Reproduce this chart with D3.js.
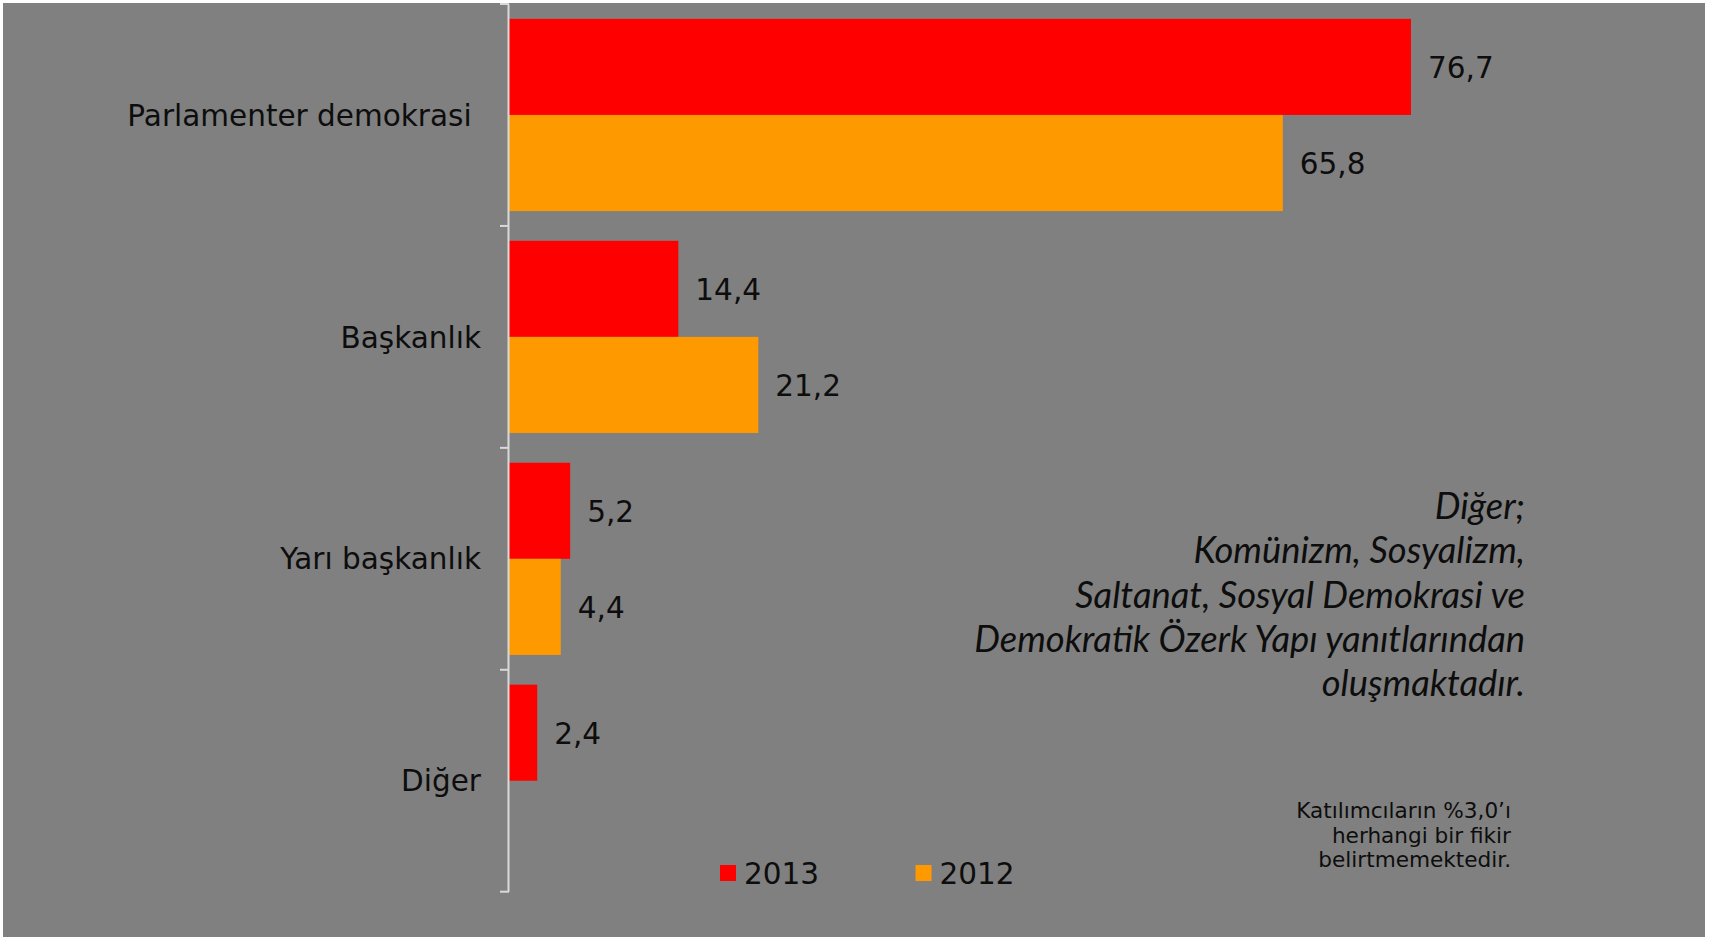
<!DOCTYPE html>
<html>
<head>
<meta charset="utf-8">
<script src="https://d3js.org/d3.v7.min.js"></script>
<style>
  body { margin: 0; background: #ffffff; }
  svg { display: block; }
</style>
</head>
<body>
<div id="chart"></div>
<script>
// Yönetim sistemi tercihi, 2013 / 2012 (%)

var categories = ["Parlamenter demokrasi ", "Başkanlık", "Yarı başkanlık", "Diğer"];
var seriesNames = ["2013", "2012"];
var values2013 = [76.7, 14.4, 5.2, 2.4];
var values2012 = [65.8, 21.2, 4.4, null];
var noteLines = ["Diğer;", "Komünizm, Sosyalizm,", "Saltanat, Sosyal Demokrasi ve",
                 "Demokratik Özerk Yapı yanıtlarından", "oluşmaktadır."];
var footLines = ["Katılımcıların %3,0’ı", "herhangi bir fikir", "belirtmemektedir."];

var W = 1709, H = 937;
var plot = { left: 509, top: 4, bottom: 891.7 };
var colors = ["#ff0000", "#ff9900"];
var labelFont = "DejaVu Sans";

var svg = d3.select("#chart").append("svg")
    .attr("width", W)
    .attr("height", H);

// gray slide background
svg.append("rect")
    .attr("x", 3).attr("y", 3)
    .attr("width", 1702).attr("height", H - 3)
    .attr("fill", "#808080");

var y = d3.scaleBand()
    .domain(categories)
    .range([plot.top, plot.bottom])
    .padding(0);

var x = d3.scaleLinear()
    .domain([0, 100])
    .range([plot.left, plot.left + 1176]);

// inner band for the two bars of a group
var groupH = y.bandwidth() * 0.866;
var y1 = d3.scaleBand()
    .domain(seriesNames)
    .range([(y.bandwidth() - groupH) / 2, (y.bandwidth() + groupH) / 2]);

var rows = categories.map(function(c, i) {
  return { cat: c, vals: [values2013[i], values2012[i]] };
});

var groups = svg.selectAll(".grp")
  .data(rows)
  .enter().append("g")
    .attr("class", "grp")
    .attr("transform", function(d) { return "translate(0," + y(d.cat) + ")"; });

var cells = groups.selectAll(".cell")
  .data(function(d) {
    return d.vals.map(function(v, j) { return { key: seriesNames[j], v: v, j: j }; })
      .filter(function(e) { return e.v != null; });
  })
  .enter().append("g")
    .attr("class", "cell");

cells.append("rect")
    .attr("x", x(0))
    .attr("y", function(d) { return y1(d.key); })
    .attr("width", function(d) { return x(d.v) - x(0); })
    .attr("height", y1.bandwidth())
    .attr("fill", function(d) { return colors[d.j]; });

cells.append("text")
    .attr("x", function(d) { return x(d.v) + 17; })
    .attr("y", function(d) { return y1(d.key) + y1.bandwidth() / 2; })
    .attr("dy", "0.38em")
    .style("font", "29.5px '" + labelFont + "'")
    .style("fill", "#0d0d0d")
    .text(function(d) { return d3.format(".1f")(d.v).replace(".", ","); });

// category axis: labels centred, ticks at band edges
var yAxis = d3.axisLeft(y).tickSize(0).tickPadding(28);
var ax = svg.append("g")
    .attr("transform", "translate(" + plot.left + ",0)")
    .call(yAxis);
ax.select(".domain").remove();
ax.selectAll(".tick text")
    .attr("xml:space", "preserve")
    .attr("dy", "0.36em")
    .style("white-space", "pre")
    .style("font", "29.5px '" + labelFont + "'")
    .style("fill", "#0d0d0d");

var edges = categories.map(function(c) { return y(c); }).concat([plot.bottom]);
svg.append("line")
    .attr("x1", plot.left - 0.5).attr("x2", plot.left - 0.5)
    .attr("y1", plot.top).attr("y2", plot.bottom)
    .attr("stroke", "#d9d9d9").attr("stroke-width", 2);
svg.selectAll(".edge")
  .data(edges)
  .enter().append("line")
    .attr("class", "edge")
    .attr("x1", plot.left - 9).attr("x2", plot.left)
    .attr("y1", function(d) { return d; }).attr("y2", function(d) { return d; })
    .attr("stroke", "#d9d9d9").attr("stroke-width", 2);

// legend
var legend = svg.selectAll(".legend")
  .data(seriesNames)
  .enter().append("g")
    .attr("class", "legend")
    .attr("transform", function(d, i) { return "translate(" + (720 + i * 195.5) + ",865)"; });

legend.append("rect")
    .attr("width", 16).attr("height", 16)
    .attr("fill", function(d, i) { return colors[i]; });

legend.append("text")
    .attr("x", 24).attr("y", 8)
    .attr("dy", "0.38em")
    .style("font", "29.5px '" + labelFont + "'")
    .style("fill", "#0d0d0d")
    .text(function(d) { return d; });

// italic note, fitted to the width it has in the original
var note = svg.append("text")
    .attr("text-anchor", "end")
    .style("font-family", "Lato")
    .style("font-style", "italic")
    .style("font-size", "37px")
    .style("fill", "#0d0d0d");
note.selectAll("tspan")
  .data(noteLines)
  .enter().append("tspan")
    .attr("x", 1525)
    .attr("y", function(d, i) { return 519 + i * 44.3; })
    .text(function(d) { return d; });
var widest = d3.max(note.selectAll("tspan").nodes(), function(n) { return n.getComputedTextLength(); });
note.style("font-size", (37 * 551 / widest) + "px");

// small footnote
svg.append("text")
    .attr("text-anchor", "end")
    .style("font", "21.6px '" + labelFont + "'")
    .style("fill", "#0d0d0d")
  .selectAll("tspan")
  .data(footLines)
  .enter().append("tspan")
    .attr("x", 1511)
    .attr("y", function(d, i) { return 818 + i * 24.6; })
    .text(function(d) { return d; });
</script>
</body>
</html>
